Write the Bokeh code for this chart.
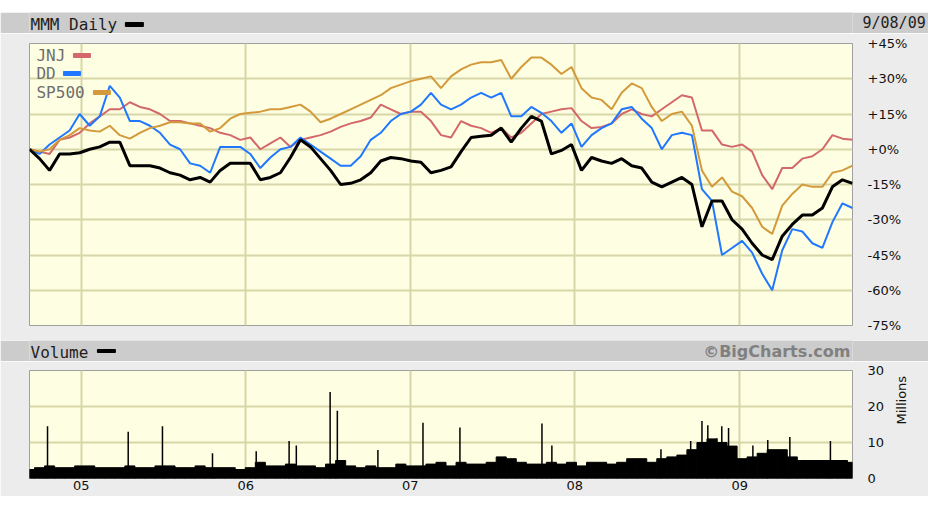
import math
import pandas as pd
from bokeh.plotting import figure
from bokeh.layouts import column
from bokeh.models import Range1d, FixedTicker
from bokeh.core.properties import value
from bokeh.embed import file_html
from bokeh.resources import INLINE

# ---------------- data ----------------
start_date = "2004-09-08"
end_date = "2009-09-08"
chart_date = "9/08/09"

# percent change since start, sampled evenly across the period
jnj = [0, -1, -2, 4, 5, 7, 11, 14, 17, 17,
       20, 18, 17, 15, 12, 12, 11, 10, 9, 7,
       6, 4, 5, 0, 2.5, 5, 1, 4, 5, 6,
       7.5, 9.5, 11, 12, 13.5, 19, 17, 15, 16, 16,
       12, 6, 5, 12, 10, 9, 7, 9, 5, 7,
       11, 15, 16, 17, 17.5, 12, 9, 9.5, 11, 15,
       17, 15, 14, 17, 20, 23, 22, 8, 8, 2,
       1, 2, -1, -11, -17, -8, -8, -4, -3, 0,
       6, 4.5, 4]
dd = [0, -2, 2, 5, 8, 15, 10, 14, 27, 22,
      12, 12, 10, 7, 2, 0, -6, -7, -10, 1,
      1, 1, -2, -8, -3.5, 0, 1, 5, 2, -1,
      -4, -7, -7, -3, 4, 7, 12, 15, 16, 19,
      24, 19, 17, 19, 22, 24, 22, 24, 14, 14,
      18, 15.5, 12, 7, 11, 1, 6, 9, 11, 17,
      18, 13, 9, 0, 6, 7, 6, -17, -22, -45,
      -42, -39, -44, -53, -60, -43, -34, -35, -40, -42,
      -31, -23, -25]
sp500 = [0, -1, 0, 4, 6, 9, 8, 7.5, 10, 6,
         4.5, 7, 9, 10, 11.5, 11.5, 11, 11, 7.5, 9,
         13, 15, 15.5, 16, 17, 17, 18, 19, 16, 11.5,
         13, 15, 17, 19, 21, 23, 26, 27.5, 29, 30,
         31, 26, 31, 34, 36, 37, 37, 38, 30, 35,
         39, 39, 36, 32, 35, 26, 22, 21, 17, 24,
         28, 26, 18, 12, 15, 16, 10, -9, -16, -12,
         -18, -20, -25, -33, -36, -24, -19, -15, -16, -16,
         -10, -9, -7]
mmm = [0, -4, -9, -2, -2, -1.5, 0, 1, 3, 3,
       -7, -7, -7, -8, -10, -11, -13, -12, -14, -9,
       -6, -6, -6, -13, -12, -10, -3.5, 4, 1, -4,
       -9, -15, -14.5, -13, -10, -5, -3.5, -4, -5, -5.5,
       -10, -9, -7.5, -1, 5, 5.5, 6, 9, 3, 9,
       14, 12, -2, -0.5, 2, -9, -3.5, -5, -6, -4,
       -7, -8, -14, -16, -14, -12, -15, -33, -22, -22,
       -30, -34, -40, -45, -47, -37, -32, -28, -28, -25,
       -16, -13, -14.5]

# MMM volume (millions): typical level on the same sampling
vol_base = [2.5, 3, 3.5, 3, 3, 3.5, 3.5, 3, 3, 3,
            3.5, 3, 3, 3.5, 3.5, 3, 3, 3.5, 3, 3,
            3, 2.5, 3, 4.5, 3.5, 3.5, 4, 3.5, 3.5, 3,
            4, 5, 3.5, 3, 3.5, 3, 3, 4, 3.5, 3.5,
            4, 4.5, 3.5, 4.5, 4, 4, 4.5, 6, 5.5, 4.5,
            4, 4, 4.5, 4, 4.5, 3.5, 4.5, 4.5, 4, 4.5,
            5.5, 5.5, 4.5, 5.5, 6, 6.5, 8, 10, 11, 10,
            9, 5.5, 6, 7, 8, 8, 6, 5, 5, 5,
            5, 5, 4.5]
# single-day volume spikes (millions)
spike_dates = ["2004-10-18", "2005-04-15", "2005-06-30", "2005-10-19", "2006-01-24",
               "2006-04-07", "2006-04-23", "2006-07-07", "2006-07-23", "2006-10-21",
               "2007-01-29", "2007-04-21", "2007-10-20", "2007-11-11", "2008-07-10",
               "2008-09-14", "2008-10-09", "2008-10-22", "2008-11-11", "2008-11-22",
               "2008-12-07", "2009-01-30", "2009-03-04", "2009-04-22", "2009-07-21"]
spike_vol = [14.5, 13, 14.5, 7, 7.6,
             10.4, 9.2, 24, 18.8, 7.9,
             15.5, 14.2, 15.3, 9.2, 8.1,
             10.4, 16, 14.8, 11.2, 14.5,
             14, 9.2, 10.7, 11.5, 10.4]

year_ticks = ["2005-01-01", "2006-01-01", "2007-01-01", "2008-01-01", "2009-01-01"]
year_labels = ["05", "06", "07", "08", "09"]
pct_ticks = [45, 30, 15, 0, -15, -30, -45, -60, -75]
pct_labels = ["+45%", "+30%", "+15%", "+0%", "-15%", "-30%", "-45%", "-60%", "-75%"]
vol_ticks = [0, 10, 20, 30]
vol_labels = ["0", "10", "20", "30"]

# ---------------- styling ----------------
W = 928
FRAME_W = 824
LEFT = 29
RIGHT = W - LEFT - FRAME_W
BG = "#ececec"
BAND = "#cccccc"
PLOT_BG = "#fefee2"
GRID = "#d6d6a8"
MONO = value("DejaVu Sans Mono")
SANS = "DejaVu Sans"
C_JNJ, C_DD, C_SP, C_MMM = "#d2686a", "#1f78ff", "#d39a3c", "#000000"

dates = pd.date_range(start_date, end_date, periods=len(jnj))
t0 = pd.Timestamp(start_date)
t1 = pd.Timestamp(end_date)
t0ms = t0.value / 1e6
t1ms = t1.value / 1e6
year_ms = [pd.Timestamp(t).value / 1e6 for t in year_ticks]
step_ms = (t1ms - t0ms) / (len(jnj) - 1)


def plain_fig(height, color, right_axis=False):
    b = figure(width=W, height=height, x_range=Range1d(0, FRAME_W), y_range=Range1d(0, height),
               x_axis_location=None, y_axis_location="right" if right_axis else None,
               output_backend="svg", toolbar_location=None, min_border_left=LEFT,
               min_border_right=RIGHT, min_border_top=0, min_border_bottom=0)
    b.background_fill_color = color
    b.border_fill_color = color
    b.outline_line_color = None
    b.grid.visible = False
    return b


def clean_axis(ax, standoff, font, size):
    ax.axis_line_color = None
    ax.major_tick_line_color = None
    ax.minor_tick_line_color = None
    ax.major_tick_out = 0
    ax.major_tick_in = 0
    ax.minor_tick_out = 0
    ax.minor_tick_in = 0
    ax.major_label_standoff = standoff
    ax.major_label_text_font = font
    ax.major_label_text_font_size = size
    ax.major_label_text_color = "#111111"


# ---- white strip above the chart ----
f0 = plain_fig(12, "#ffffff")

# ---- top band (date shown as a one-tick right axis) ----
fa = plain_fig(21, BAND, right_axis=True)
fa.text(x=[1], y=[9.5], text=["MMM Daily"], text_font=MONO, text_font_size="16px",
        text_baseline="middle", text_align="left", text_color="#1e1e1e")
fa.quad(left=[96], right=[114], bottom=[7], top=[11], color="#000000")
ay = fa.yaxis[0]
ay.ticker = FixedTicker(ticks=[10.5])
ay.major_label_overrides = {10.5: chart_date}
clean_axis(ay, 10, "DejaVu Sans Mono", "15px")
ay.major_label_text_color = "#1e1e1e"

# ---- price chart ----
FRAME_H = 282
fb = figure(width=W, height=10 + FRAME_H + 15, x_axis_type="datetime", y_axis_location="right",
            x_range=Range1d(t0, t1), y_range=Range1d(-75, 45), output_backend="svg",
            toolbar_location=None, min_border_left=LEFT, min_border_right=RIGHT,
            min_border_top=10, min_border_bottom=15)
fb.xaxis.visible = False
fb.background_fill_color = PLOT_BG
fb.border_fill_color = BG
fb.outline_line_color = "#a0a0a0"
fb.outline_line_width = 1
fb.xgrid.ticker = FixedTicker(ticks=year_ms)
fb.ygrid.ticker = FixedTicker(ticks=pct_ticks)
fb.grid.grid_line_color = GRID
fb.grid.grid_line_width = 2
ya = fb.yaxis[0]
ya.ticker = FixedTicker(ticks=pct_ticks)
ya.major_label_overrides = {t: l for t, l in zip(pct_ticks, pct_labels)}
clean_axis(ya, 15, SANS, "13px")

fb.line(dates, jnj, line_color=C_JNJ, line_width=2)
fb.line(dates, dd, line_color=C_DD, line_width=2)
fb.line(dates, sp500, line_color=C_SP, line_width=2)
fb.line(dates, mmm, line_color=C_MMM, line_width=3)


def fx(px):
    return t0ms + px / FRAME_W * (t1ms - t0ms)


def fy(py):
    return 45 - py / FRAME_H * 120


leg_names = ["JNJ", "DD", "SP500"]
leg_colors = [C_JNJ, C_DD, C_SP]
leg_y = [12, 30, 49]
leg_dash_x = [(44, 61), (34, 51), (64, 81)]
for name, col, yy, (a, b2) in zip(leg_names, leg_colors, leg_y, leg_dash_x):
    fb.text(x=[fx(7)], y=[fy(yy)], text=[name], text_font=MONO, text_font_size="16px",
            text_baseline="middle", text_align="left", text_color="#6e6e6e")
    fb.quad(left=[fx(a)], right=[fx(b2)], bottom=[fy(yy + 2)], top=[fy(yy - 2)], color=col)

# ---- volume band ----
fc = plain_fig(21, BAND)
fc.text(x=[1], y=[9.5], text=["Volume"], text_font=MONO, text_font_size="16px",
        text_baseline="middle", text_align="left", text_color="#1e1e1e")
fc.quad(left=[68], right=[86], bottom=[9], top=[12], color="#000000")
fc.text(x=[822], y=[10.5], text=["\u00a9BigCharts.com"], text_font=value(SANS),
        text_font_size="16px", text_font_style="bold", text_baseline="middle",
        text_align="right", text_color="#808080")

# ---- volume chart ----
VH = 108
fd = figure(width=W, height=9 + VH + 18, x_axis_type="datetime", y_axis_location="right",
            x_range=fb.x_range, y_range=Range1d(0, 30), output_backend="svg",
            toolbar_location=None, min_border_left=LEFT, min_border_right=RIGHT,
            min_border_top=9, min_border_bottom=18)
fd.background_fill_color = PLOT_BG
fd.border_fill_color = BG
fd.outline_line_color = "#a0a0a0"
fd.outline_line_width = 1
fd.xgrid.ticker = FixedTicker(ticks=year_ms)
fd.ygrid.ticker = FixedTicker(ticks=vol_ticks)
fd.grid.grid_line_color = GRID
fd.grid.grid_line_width = 2
xa = fd.xaxis[0]
xa.ticker = FixedTicker(ticks=year_ms)
xa.major_label_overrides = {t: l for t, l in zip(year_ms, year_labels)}
clean_axis(xa, 2, SANS, "13px")
yb = fd.yaxis[0]
yb.ticker = FixedTicker(ticks=vol_ticks)
yb.major_label_overrides = {t: l for t, l in zip(vol_ticks, vol_labels)}
clean_axis(yb, 15, SANS, "13px")
yb.axis_label = "Millions"
yb.axis_label_standoff = 14
yb.axis_label_text_font = SANS
yb.axis_label_text_font_size = "13px"
yb.axis_label_text_font_style = "normal"
yb.axis_label_text_color = "#111111"
try:
    yb.axis_label_orientation = math.pi / 2
except Exception:
    pass

fd.vbar(x=dates, top=vol_base, width=step_ms, bottom=0, color="#000000")
sd = pd.to_datetime(spike_dates)
fd.segment(x0=sd, y0=[0] * len(spike_vol), x1=sd, y1=spike_vol, line_color="#000000",
           line_width=1.5)

layout = column(f0, fa, fb, fc, fd, spacing=0)
open("out.html", "w").write(file_html(layout, INLINE))
